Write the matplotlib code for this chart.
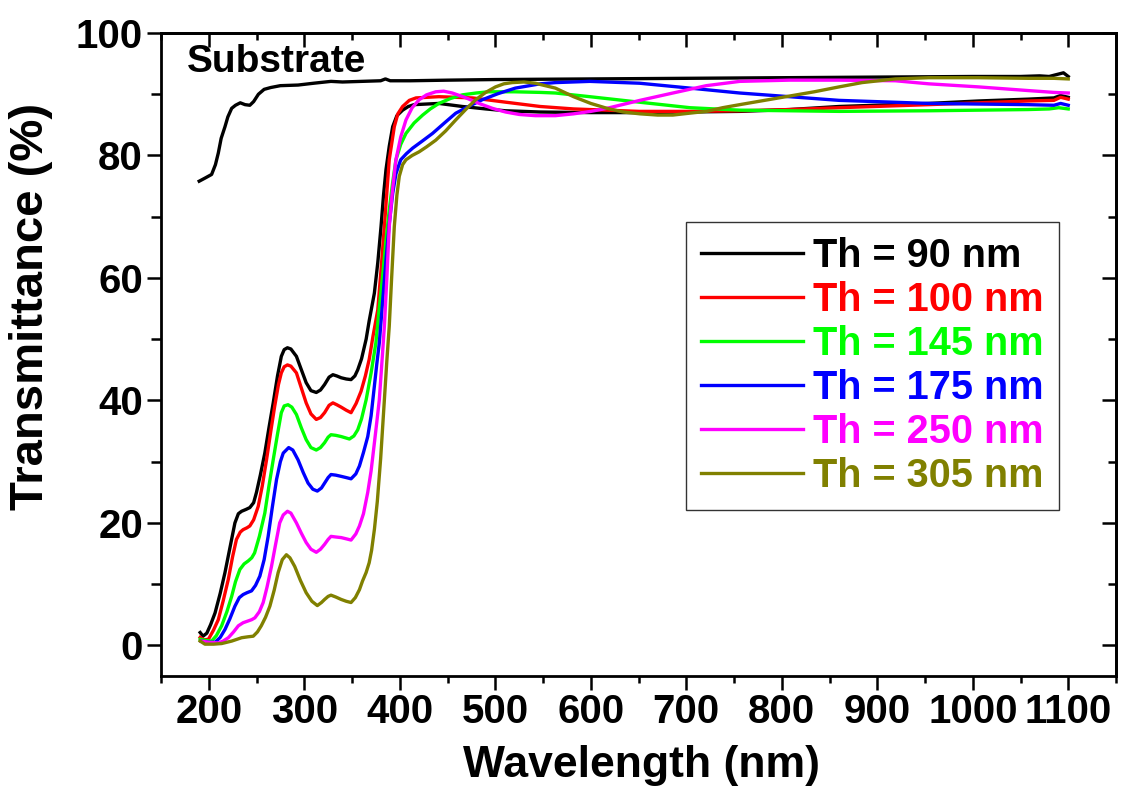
import matplotlib
matplotlib.use("Agg")
import matplotlib.pyplot as plt
from matplotlib.ticker import MultipleLocator

plt.rcParams['font.family'] = ['Liberation Sans', 'DejaVu Sans']
plt.rcParams['font.weight'] = 'bold'

# ---------------- data ----------------
wl_sub = [190, 196, 203, 207, 210, 213, 217, 220, 224, 228, 233, 238, 243, 247, 252, 258,
          265, 275, 293.5, 310, 328, 340, 360, 380, 385, 390, 411, 450, 500, 600, 700, 800,
          900, 1000, 1050, 1070, 1080, 1090, 1095, 1100]
t_sub = [75.8, 76.3, 76.9, 78.5, 80.4, 82.8, 84.7, 86.3, 87.7, 88.2, 88.6, 88.3, 88.2, 88.8,
         90.0, 90.8, 91.1, 91.4, 91.5, 91.8, 92.1, 92.0, 92.1, 92.2, 92.5, 92.2, 92.2, 92.3,
         92.4, 92.5, 92.6, 92.7, 92.8, 92.9, 92.9, 93.0, 92.9, 93.3, 93.5, 92.9]

wl_90 = [191, 194, 198, 202, 206.6, 212, 217, 222, 227.4, 231, 234.4, 239, 243, 247, 250, 254,
         258.7, 263, 267.5, 272, 276, 279, 282.4, 286, 291.8, 297, 302, 307, 312.6, 317, 321.3,
         326, 330, 334, 338.7, 344, 349, 353, 356, 360, 364.8, 368, 373.4, 377, 380.4, 383,
         385.6, 389, 392.6, 397, 403, 409, 415, 441, 465.6, 490, 510.7, 547, 600, 650, 700,
         756, 808, 860, 954, 1006, 1058, 1085, 1092, 1100]
t_90 = [2.1, 1.5, 2.0, 3.4, 5.3, 8.5, 11.9, 15.8, 20.0, 21.5, 21.9, 22.2, 22.5, 23.3, 25.0, 27.8,
        31.4, 35.5, 39.6, 44.0, 47.2, 48.3, 48.6, 48.4, 47.2, 45.0, 42.9, 41.6, 41.3, 41.7, 42.6,
        43.8, 44.2, 44.0, 43.7, 43.5, 43.4, 44.0, 45.0, 46.8, 50.0, 53.0, 57.5, 62.5, 68.4, 73.5,
        77.7, 81.5, 84.7, 86.5, 87.4, 88.0, 88.3, 88.5, 88.0, 87.6, 87.3, 87.1, 87.0, 87.0, 87.1,
        87.2, 87.5, 88.0, 88.5, 88.9, 89.2, 89.4, 89.8, 89.5]

wl_100 = [191, 195, 199.7, 205, 210, 215, 220.5, 225, 229, 233, 236, 240, 243, 247, 251.8, 256,
          260.5, 265, 269, 273, 276, 279, 282.4, 286, 291.8, 297, 302, 307, 312.6, 317, 321.3,
          326, 330, 334, 338.7, 344, 349, 354.3, 359.5, 364, 368, 372, 377, 380.5, 383.9, 386.5,
          389, 394.3, 398, 403, 410, 417, 441, 476, 511, 547, 582, 651, 704, 756, 808, 860, 954,
          1006, 1058, 1085, 1092, 1100]
t_100 = [1.3, 0.9, 1.0, 2.5, 4.2, 7.2, 10.8, 14.5, 17.3, 18.5, 18.9, 19.2, 19.5, 20.5, 22.7, 26.0,
         30.3, 35.0, 39.0, 42.6, 44.5, 45.5, 45.8, 45.6, 44.5, 42.0, 39.6, 37.8, 36.9, 37.2, 38.0,
         39.2, 39.6, 39.3, 38.9, 38.4, 38.0, 39.5, 41.5, 44.0, 46.7, 50.5, 54.8, 61.5, 68.4, 74.0,
         79.3, 84.7, 86.8, 88.0, 89.0, 89.4, 89.6, 89.4, 88.7, 88.0, 87.6, 87.2, 87.2, 87.3, 87.5,
         87.8, 88.3, 88.6, 88.9, 89.0, 89.5, 89.2]

wl_145 = [191, 197, 203, 208, 213.5, 219, 224, 228, 232.6, 237, 241.4, 245, 248, 253, 258.7, 263,
          267.5, 272, 276, 279, 283, 287, 291.8, 297, 302, 307, 312.6, 317, 321.3, 325, 328, 333,
          338.7, 343, 347.3, 352, 356, 360, 364.8, 370, 375, 378.5, 382, 385.5, 389, 392.5, 396,
          401, 406.5, 415, 424, 432, 441, 453, 465.6, 480, 493, 520, 547, 563, 599, 651, 704, 756,
          808, 860, 954, 1006, 1058, 1080, 1090, 1100]
t_145 = [1.0, 0.8, 0.7, 1.6, 3.2, 5.5, 8.0, 10.4, 12.4, 13.3, 13.8, 14.3, 15.1, 17.8, 21.6, 26.0,
         30.3, 34.5, 38.0, 39.1, 39.3, 38.9, 37.7, 35.5, 33.6, 32.3, 31.9, 32.3, 33.1, 34.0, 34.4,
         34.3, 34.1, 33.9, 33.7, 34.2, 35.2, 37.0, 40.1, 44.5, 49.4, 55.0, 60.2, 66.0, 71.1, 75.5,
         79.3, 81.8, 83.6, 85.3, 86.6, 87.6, 88.5, 89.3, 89.9, 90.2, 90.4, 90.4, 90.3, 90.2, 89.6,
         88.7, 87.8, 87.4, 87.3, 87.2, 87.3, 87.4, 87.5, 87.6, 87.8, 87.6]

wl_175 = [192, 200, 206.6, 212, 217, 222, 227.4, 232, 236, 240, 244.8, 249, 253.5, 258, 262.2,
          266.5, 271, 275, 278, 283.7, 288, 293.5, 299, 304, 309, 313.7, 318, 321.3, 325, 328, 333,
          338.7, 344, 349, 354, 357.8, 362, 366.5, 370, 373.4, 376, 378.6, 382, 385.6, 389, 392.6,
          396, 401, 407, 413.5, 424, 434.3, 446, 458.6, 472, 486.4, 503, 521, 547, 563, 599, 651,
          704, 756, 808, 860, 954, 1006, 1058, 1085, 1092, 1100]
t_175 = [0.7, 0.5, 0.5, 1.3, 2.6, 4.3, 6.4, 7.8, 8.3, 8.6, 8.9, 9.8, 11.3, 14.0, 17.8, 22.5, 27.1,
         30.0, 31.4, 32.3, 31.9, 30.3, 28.2, 26.5, 25.5, 25.2, 25.7, 26.5, 27.4, 27.9, 27.8, 27.6,
         27.4, 27.2, 28.0, 29.3, 31.5, 34.1, 37.5, 42.3, 46.0, 49.4, 56.0, 63.0, 68.8, 73.8, 77.0,
         79.3, 80.3, 81.2, 82.4, 83.6, 85.2, 86.9, 88.0, 89.1, 90.1, 91.0, 91.7, 91.9, 92.1, 91.8,
         91.0, 90.2, 89.6, 89.0, 88.5, 88.4, 88.3, 88.2, 88.5, 88.2]

wl_250 = [192, 200, 210, 215, 220.5, 226, 231, 236, 241.4, 245, 248.3, 253, 257, 261, 265.7, 270,
          274.3, 278, 282.4, 286, 291.8, 297, 302, 307, 312.6, 317, 321.3, 325, 328, 333, 338.7,
          344, 349, 354, 357.8, 362, 366.5, 370, 373.4, 376, 378.6, 381, 383.9, 386.5, 389, 392.5,
          396, 401, 406.5, 413, 420.3, 428, 437.7, 446, 455, 468, 483, 497, 510.7, 525, 542, 563,
          582, 600, 617, 651.5, 686, 721, 756, 808, 860, 919, 954, 1006, 1058, 1085, 1100]
t_250 = [0.7, 0.5, 0.4, 0.7, 1.25, 2.2, 3.2, 3.7, 4.0, 4.2, 4.5, 5.5, 7.0, 9.5, 12.9, 16.5, 20.0,
         21.3, 21.9, 21.6, 20.0, 18.3, 16.8, 15.7, 15.2, 15.7, 16.5, 17.3, 17.8, 17.7, 17.6, 17.4,
         17.2, 18.2, 19.5, 21.5, 25.0, 28.5, 33.0, 36.5, 40.1, 45.5, 52.1, 60.0, 68.4, 74.5, 79.3,
         83.0, 85.8, 87.8, 89.1, 89.9, 90.4, 90.5, 90.2, 89.5, 88.5, 87.7, 87.1, 86.7, 86.5, 86.5,
         86.8, 87.2, 87.7, 89.0, 90.2, 91.4, 92.1, 92.3, 92.3, 92.2, 91.7, 91.2, 90.6, 90.3, 90.2]

wl_305 = [191, 196, 205, 213.5, 224, 234.4, 241, 246.6, 251, 255, 259.5, 264, 268.5, 272.7, 277,
          281.3, 285, 290, 296, 302, 308, 313.7, 318, 321.3, 325, 328, 333, 338.7, 344, 349, 353.5,
          357.8, 361, 364.8, 368, 370.5, 373.5, 376.5, 380, 383.9, 386.5, 389, 391.5, 394.3, 397,
          399.5, 403, 406.5, 413, 420.3, 428, 437.7, 448, 458.6, 469, 479.5, 490, 500.3, 509,
          517.7, 530, 542, 547, 563, 582, 600, 617, 634, 651.5, 670, 686, 703, 721, 738, 756, 782,
          808, 834, 860, 884, 919, 954, 1006, 1058, 1085, 1100]
t_305 = [0.7, 0.2, 0.2, 0.3, 0.7, 1.25, 1.4, 1.5, 2.2, 3.2, 4.6, 6.4, 9.0, 11.9, 14.0, 14.8, 14.3,
         12.9, 10.6, 8.6, 7.2, 6.5, 7.0, 7.5, 8.0, 8.2, 7.9, 7.5, 7.2, 7.0, 7.8, 9.1, 10.5, 11.9,
         13.5, 15.5, 19.0, 23.5, 30.5, 40.1, 46.5, 52.1, 60.0, 68.4, 73.5, 76.6, 78.5, 79.3, 80.0,
         80.6, 81.4, 82.5, 84.0, 85.8, 87.5, 89.1, 90.3, 91.2, 91.7, 91.9, 92.0, 91.8, 91.6, 91.0,
         89.6, 88.5, 87.7, 87.1, 86.8, 86.6, 86.6, 86.9, 87.2, 87.8, 88.3, 89.0, 89.7, 90.4, 91.2,
         91.9, 92.5, 92.7, 92.7, 92.6, 92.6, 92.5]

labels = ["Th = 90 nm", "Th = 100 nm", "Th = 145 nm", "Th = 175 nm", "Th = 250 nm", "Th = 305 nm"]
colors = ["#000000", "#FF0000", "#00FF00", "#0000FF", "#FF00FF", "#808000"]
series = [(wl_90, t_90), (wl_100, t_100), (wl_145, t_145), (wl_175, t_175),
          (wl_250, t_250), (wl_305, t_305)]

x_ticks = [200, 300, 400, 500, 600, 700, 800, 900, 1000, 1100]
y_ticks = [0, 20, 40, 60, 80, 100]

# ---------------- figure ----------------
fig = plt.figure(figsize=(11.21, 7.93), dpi=100)
ax = fig.add_axes([161 / 1121, 1 - 676 / 793, (1116 - 161) / 1121, (676 - 33) / 793])

lw = 2.4
ax.plot(wl_sub, t_sub, color="#000000", lw=lw, solid_joinstyle='round')
for (wl, t), lab, c in zip(series, labels, colors):
    ax.plot(wl, t, color=c, lw=lw, label=lab, solid_joinstyle='round')

ax.set_xlim(150, 1150)
ax.set_ylim(-5, 100)
ax.set_xticks(x_ticks)
ax.set_yticks(y_ticks)
ax.xaxis.set_minor_locator(MultipleLocator(50))
ax.yaxis.set_minor_locator(MultipleLocator(10))

for s in ax.spines.values():
    s.set_linewidth(2.0)

ax.tick_params(which='both', width=1.8, labelsize=29)
ax.tick_params(axis='x', which='major', direction='out', length=10, pad=2)
ax.tick_params(axis='x', which='minor', direction='out', length=5)
ax.tick_params(axis='y', which='major', direction='out', length=10, pad=3)
ax.tick_params(axis='y', which='minor', direction='out', length=7)

# inward ticks on top/right
axt = ax.secondary_xaxis('top')
axt.set_xticks(x_ticks)
axt.xaxis.set_minor_locator(MultipleLocator(50))
axt.tick_params(which='major', direction='in', length=10, width=1.8, labeltop=False)
axt.tick_params(which='minor', direction='in', length=5, width=1.8)
axt.spines['top'].set_linewidth(2.0)
axr = ax.secondary_yaxis('right')
axr.set_yticks(y_ticks)
axr.yaxis.set_minor_locator(MultipleLocator(10))
axr.tick_params(which='major', direction='in', length=10, width=1.8, labelright=False)
axr.tick_params(which='minor', direction='in', length=6, width=1.8)
axr.spines['right'].set_linewidth(2.0)

ax.set_xlabel("Wavelength (nm)", fontsize=32, fontweight='bold')
ax.xaxis.set_label_coords(0.503, -0.108, transform=ax.transAxes)
ax.xaxis.label.set_va('top')
ax.set_ylabel("Transmittance (%)", fontsize=34, fontweight='bold')
ax.yaxis.set_label_coords(-0.113, 0.575)

ax.text(177, 95.3, "Substrate", fontsize=28, fontweight='bold', ha='left', va='center')

leg = ax.legend(loc='upper left', bbox_to_anchor=(0.5497, 0.706), borderaxespad=0,
                fontsize=28.5, frameon=True, fancybox=False, edgecolor='black',
                handlelength=2.58, handletextpad=0.25, labelspacing=0.15, borderpad=0.38)
leg.get_frame().set_linewidth(1.0)
for txt, c in zip(leg.get_texts(), colors):
    txt.set_color(c)
    txt.set_fontweight('bold')

fig.savefig("out.png", dpi=100)
